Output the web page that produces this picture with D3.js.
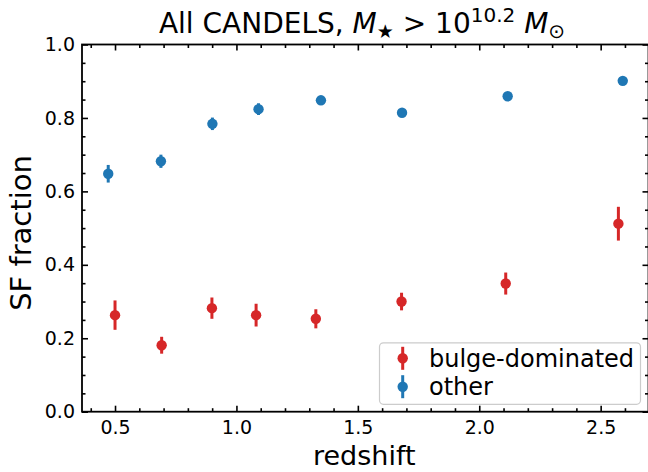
<!DOCTYPE html>
<html>
<head>
<meta charset="utf-8">
<script src="https://cdn.jsdelivr.net/npm/d3@7"></script>
<style>
  body { margin: 0; background: #fff; }
  svg { display: block; }
  text { font-family: "DejaVu Sans", sans-serif; fill: #000; }
</style>
</head>
<body>
<svg id="chart" width="648" height="472"></svg>
<script>
// ---- data ----
const seriesNames = ["bulge-dominated", "other"];
const seriesColors = ["#d62728", "#1f77b4"];

const bulgeZ   = [0.500, 0.692, 0.899, 1.081, 1.327, 1.680, 2.109, 2.573];
const bulgeSF  = [0.263, 0.181, 0.282, 0.263, 0.253, 0.300, 0.349, 0.512];
const bulgeErr = [0.040, 0.023, 0.029, 0.031, 0.026, 0.024, 0.030, 0.046];

const otherZ   = [0.472, 0.689, 0.901, 1.091, 1.348, 1.682, 2.117, 2.591];
const otherSF  = [0.648, 0.682, 0.784, 0.824, 0.848, 0.814, 0.859, 0.901];
const otherErr = [0.024, 0.018, 0.017, 0.016, 0.009, 0.008, 0.008, 0.008];

const xMajorTicks = [0.5, 1.0, 1.5, 2.0, 2.5];
const yMajorTicks = [0.0, 0.2, 0.4, 0.6, 0.8, 1.0];

// ---- layout ----
const svg = d3.select("#chart");
const L = 82, R = 648.5, T = 44.5, B = 411.7;

const x = d3.scaleLinear().domain([0.364, 2.697]).range([L, R]);
const y = d3.scaleLinear().domain([0, 1]).range([B, T]);

const xMinor = d3.range(4, 27).map(d => d / 10).filter(v => !xMajorTicks.some(m => Math.abs(m - v) < 1e-9));
const yMinor = d3.range(0, 21).map(d => d / 20).filter(v => !yMajorTicks.some(m => Math.abs(m - v) < 1e-9));

const tickW = 1.6, majLen = 6, minLen = 3.5;
const tickFont = 19;

const fmt = d3.format(".1f");
function styleAxis(g) {
  g.select(".domain").remove();
  g.selectAll(".tick line").attr("stroke", "#000").attr("stroke-width", tickW);
}
// bottom
svg.append("g").attr("transform", `translate(0,${B})`)
  .call(d3.axisBottom(x).tickValues(xMajorTicks).tickFormat(fmt).tickSizeInner(-majLen).tickSizeOuter(0).tickPadding(9))
  .call(styleAxis)
  .call(g => g.selectAll(".tick text").attr("font-size", tickFont).attr("font-family", "DejaVu Sans").attr("fill", "#000"));
svg.append("g").attr("transform", `translate(0,${B})`)
  .call(d3.axisBottom(x).tickValues(xMinor).tickFormat("").tickSizeInner(-minLen).tickSizeOuter(0))
  .call(styleAxis);
// top
svg.append("g").attr("transform", `translate(0,${T})`)
  .call(d3.axisTop(x).tickValues(xMajorTicks).tickFormat("").tickSizeInner(-majLen).tickSizeOuter(0))
  .call(styleAxis);
svg.append("g").attr("transform", `translate(0,${T})`)
  .call(d3.axisTop(x).tickValues(xMinor).tickFormat("").tickSizeInner(-minLen).tickSizeOuter(0))
  .call(styleAxis);
// left
svg.append("g").attr("transform", `translate(${L},0)`)
  .call(d3.axisLeft(y).tickValues(yMajorTicks).tickFormat(fmt).tickSizeInner(-majLen).tickSizeOuter(0).tickPadding(7))
  .call(styleAxis)
  .call(g => g.selectAll(".tick text").attr("font-size", tickFont).attr("font-family", "DejaVu Sans").attr("fill", "#000"));
svg.append("g").attr("transform", `translate(${L},0)`)
  .call(d3.axisLeft(y).tickValues(yMinor).tickFormat("").tickSizeInner(-minLen).tickSizeOuter(0))
  .call(styleAxis);
// right
svg.append("g").attr("transform", `translate(${R},0)`)
  .call(d3.axisRight(y).tickValues(yMajorTicks).tickFormat("").tickSizeInner(-majLen).tickSizeOuter(0))
  .call(styleAxis);
svg.append("g").attr("transform", `translate(${R},0)`)
  .call(d3.axisRight(y).tickValues(yMinor).tickFormat("").tickSizeInner(-minLen).tickSizeOuter(0))
  .call(styleAxis);

// spines
svg.append("rect").attr("x", L).attr("y", T).attr("width", R - L).attr("height", B - T)
  .attr("fill", "none").attr("stroke", "#000").attr("stroke-width", 1.8);

// ---- data marks ----
const series = [
  { name: seriesNames[0], color: seriesColors[0], z: bulgeZ, v: bulgeSF, e: bulgeErr },
  { name: seriesNames[1], color: seriesColors[1], z: otherZ, v: otherSF, e: otherErr }
];

series.forEach(s => {
  const pts = s.z.map((z, i) => ({ z, v: s.v[i], e: s.e[i] }));
  const g = svg.append("g");
  g.selectAll("line.err").data(pts).join("line")
    .attr("x1", d => x(d.z)).attr("x2", d => x(d.z))
    .attr("y1", d => y(d.v - d.e)).attr("y2", d => y(d.v + d.e))
    .attr("stroke", s.color).attr("stroke-width", 3);
  g.selectAll("circle").data(pts).join("circle")
    .attr("cx", d => x(d.z)).attr("cy", d => y(d.v)).attr("r", 5.2)
    .attr("fill", s.color);
});

// ---- legend ----
const lg = svg.append("g");
lg.append("rect").attr("x", 379.5).attr("y", 342.8).attr("width", 261).attr("height", 61.5)
  .attr("rx", 4).attr("fill", "#fff").attr("fill-opacity", 0.8)
  .attr("stroke", "#cccccc").attr("stroke-width", 1.2);
series.forEach((s, i) => {
  const cy = 358.3 + i * 28.4;
  lg.append("line").attr("x1", 402.7).attr("x2", 402.7).attr("y1", cy - 11.5).attr("y2", cy + 11.5)
    .attr("stroke", s.color).attr("stroke-width", 3);
  lg.append("circle").attr("cx", 402.7).attr("cy", cy).attr("r", 5.2).attr("fill", s.color);
  lg.append("text").attr("x", 429).attr("y", cy + 8.5).attr("font-size", 24).text(s.name);
});

// ---- labels ----
svg.append("text").attr("x", (L + R) / 2 - 1).attr("y", 465).attr("text-anchor", "middle")
  .attr("font-size", 27).text("redshift");
svg.append("text").attr("transform", `translate(31,233) rotate(-90)`).attr("text-anchor", "middle")
  .attr("font-size", 29).text("SF fraction");

// title with math
const title = svg.append("text").attr("x", 362).attr("y", 33).attr("text-anchor", "middle").attr("font-size", 28);
title.append("tspan").text("All CANDELS, ");
title.append("tspan").attr("font-style", "italic").text("M");
title.append("tspan").attr("font-size", 19).attr("dy", 5).text("★");
title.append("tspan").attr("dy", -5).text(" > 10");
title.append("tspan").attr("font-size", 20).attr("dy", -11).text("10.2");
title.append("tspan").attr("dy", 11).text(" ");
title.append("tspan").attr("font-style", "italic").text("M");
title.append("tspan").attr("font-size", 20).attr("dy", 5).text("⊙");
</script>
</body>
</html>
